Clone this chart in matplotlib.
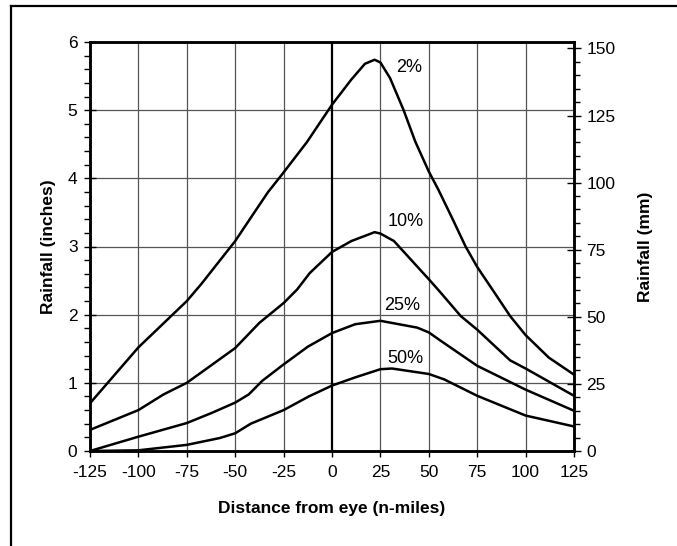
import matplotlib
matplotlib.use("Agg")
import matplotlib.pyplot as plt
from matplotlib.lines import Line2D
from matplotlib.ticker import MultipleLocator

plt.rcParams['font.family'] = ['Liberation Sans', 'DejaVu Sans']

# ---- data (rainfall in inches vs distance from eye, n-miles) ----
x_2 = [-125, -100, -75, -67.5, -50, -42, -33, -26, -13, 0, 10, 17, 22, 25, 30, 37, 43, 50, 55, 62, 69, 75, 84, 92, 100, 112, 125]
y_2 = [0.70, 1.52, 2.20, 2.45, 3.08, 3.42, 3.80, 4.05, 4.53, 5.08, 5.45, 5.68, 5.74, 5.70, 5.47, 5.00, 4.54, 4.10, 3.83, 3.42, 3.00, 2.70, 2.32, 1.98, 1.70, 1.37, 1.12]

x_10 = [-125, -100, -87, -75, -50, -37.5, -25, -18, -11.5, 0, 10, 22, 25, 32, 50, 55, 66.5, 75, 92, 100, 125]
y_10 = [0.31, 0.60, 0.83, 1.00, 1.51, 1.88, 2.17, 2.37, 2.61, 2.92, 3.08, 3.21, 3.19, 3.08, 2.52, 2.36, 1.98, 1.78, 1.33, 1.21, 0.81]

x_25 = [-125, -100, -75, -62, -50, -43, -36, -25, -12.5, 0, 12, 25, 44, 50, 56, 75, 100, 125]
y_25 = [0.00, 0.21, 0.41, 0.56, 0.71, 0.83, 1.03, 1.27, 1.53, 1.73, 1.86, 1.91, 1.81, 1.74, 1.62, 1.25, 0.90, 0.59]

x_50 = [-125, -100, -75, -58, -50, -42, -25, -12, 0, 12, 25, 31, 50, 58, 75, 100, 125]
y_50 = [0.00, 0.01, 0.09, 0.19, 0.26, 0.40, 0.60, 0.80, 0.96, 1.08, 1.20, 1.21, 1.13, 1.05, 0.81, 0.52, 0.36]

series_labels = ["2%", "10%", "25%", "50%"]
label_x = [40, 38, 36, 38]
label_y = [5.63, 3.36, 2.14, 1.36]

x_ticks = [-125, -100, -75, -50, -25, 0, 25, 50, 75, 100, 125]
y_ticks_in = [0, 1, 2, 3, 4, 5, 6]
y_ticks_mm = [0, 25, 50, 75, 100, 125, 150]

# ---- figure ----
fig = plt.figure(figsize=(6.77, 5.46), dpi=100)
ax = fig.add_axes([90/677, 1 - 451/546, (574-90)/677, (451-42)/546])

ax.set_xlim(-125, 125)
ax.set_ylim(0, 6)

# grid
for xv in x_ticks[1:-1]:
    if xv == 0:
        ax.axvline(xv, color='black', lw=1.6, zorder=2)
    else:
        ax.axvline(xv, color='#555555', lw=0.9, zorder=1)
for yv in y_ticks_in[1:-1]:
    ax.axhline(yv, color='#555555', lw=0.9, zorder=1)

for xs, ys in [(x_2, y_2), (x_10, y_10), (x_25, y_25), (x_50, y_50)]:
    ax.plot(xs, ys, color='black', lw=1.8, zorder=3, solid_joinstyle='round')

for lab, lx, ly in zip(series_labels, label_x, label_y):
    ax.text(lx, ly, lab, ha='center', va='center', fontsize=13)

for s in ax.spines.values():
    s.set_linewidth(1.8)

ax.set_xticks(x_ticks)
ax.set_xticklabels([str(v) for v in x_ticks])
ax.set_yticks(y_ticks_in)
ax.set_yticklabels([str(v) for v in y_ticks_in])
ax.yaxis.set_minor_locator(MultipleLocator(0.2))
ax.tick_params(axis='x', which='major', direction='out', length=4, width=1, labelsize=12.5, pad=6)
ax.tick_params(axis='y', which='major', direction='inout', length=8, width=1, labelsize=12.5, pad=5)
ax.tick_params(axis='y', which='minor', direction='out', length=4, width=1)

ax.set_xlabel("Distance from eye (n-miles)", fontsize=12.5, fontweight='bold')
ax.set_ylabel("Rainfall (inches)", fontsize=12.5, fontweight='bold')
ax.xaxis.set_label_coords(0.5, -0.123)
ax.yaxis.set_label_coords(-0.071, 0.5)

ax2 = ax.twinx()
ax2.set_ylim(0, 6 * 25.4)
ax2.set_yticks(y_ticks_mm)
ax2.set_yticklabels([str(v) for v in y_ticks_mm])
ax2.yaxis.set_minor_locator(MultipleLocator(5))
ax2.tick_params(axis='y', which='major', direction='inout', length=10, width=1, labelsize=12.5, pad=4)
ax2.tick_params(axis='y', which='minor', direction='out', length=4, width=1)
for s in ax2.spines.values():
    s.set_linewidth(1.8)
ax2.set_ylabel("Rainfall (mm)", fontsize=12.5, fontweight='bold')
ax2.yaxis.set_label_coords(1.133, 0.5)

# figure border (left and top visible)
fig.add_artist(Line2D([11/677, 11/677], [0, 1 - 6/546], transform=fig.transFigure, color='black', lw=1.6))
fig.add_artist(Line2D([11/677, 1], [1 - 6/546, 1 - 6/546], transform=fig.transFigure, color='black', lw=1.6))

fig.savefig("out.png", dpi=100)
